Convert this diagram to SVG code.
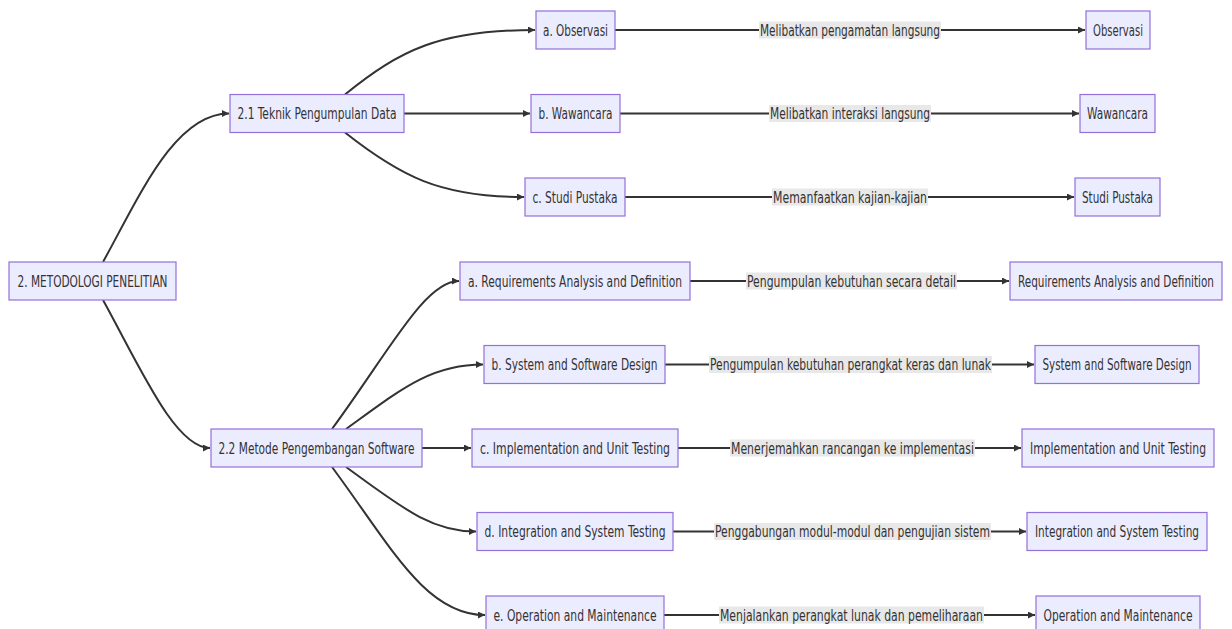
<svg xmlns="http://www.w3.org/2000/svg" width="1232" height="629" viewBox="0 0 1232 629">
<style>
.node rect{fill:#ECECFF;stroke:#9370DB;stroke-width:1.2}
text{font-family:"Liberation Sans Narrow","DejaVu Sans Condensed","Liberation Sans",sans-serif;font-size:15.5px;fill:#333;text-anchor:middle}
.edge{fill:none;stroke:#333;stroke-width:2;marker-end:url(#arr)}
.lbl rect{fill:#e8e8e8}
</style>
<defs>
<marker id="arr" viewBox="0 0 10 10" refX="10" refY="5" markerWidth="7" markerHeight="7" markerUnits="userSpaceOnUse" orient="auto"><path d="M0,0 L10,5 L0,10 z" fill="#333"/></marker>
</defs>
<rect width="1232" height="629" fill="#fff"/>
<g id="connectors">
<path class="edge" d="M103,262 C140,195 175,113.5 229,113.5"/>
<path class="edge" d="M103,300 C140,367 175,448 210,448"/>
<path class="edge" d="M345,94.5 C400,50 440,30 535,30"/>
<path class="edge" d="M404,113.5 L530,113.5"/>
<path class="edge" d="M345,132.5 C400,176 440,197 524,197"/>
<path class="edge" d="M332,429 C390,350 425,281 459,281"/>
<path class="edge" d="M346,429 C400,390 430,364.5 483,364.5"/>
<path class="edge" d="M422,448 L471,448"/>
<path class="edge" d="M346,467 C400,506 430,531.5 476,531.5"/>
<path class="edge" d="M332,467 C390,545 425,615 485,615"/>
<path class="edge" d="M615,30 L1085,30"/>
<path class="edge" d="M620,113.5 L1079,113.5"/>
<path class="edge" d="M625,197 L1074,197"/>
<path class="edge" d="M690,281 L1009,281"/>
<path class="edge" d="M665,364.5 L1034,364.5"/>
<path class="edge" d="M678,448 L1021,448"/>
<path class="edge" d="M673,531.5 L1026,531.5"/>
<path class="edge" d="M664,615 L1035,615"/>
<g class="lbl"><rect x="759" y="21.5" width="182" height="17"/><text x="850" y="35.5" textLength="180" lengthAdjust="spacingAndGlyphs">Melibatkan pengamatan langsung</text></g>
<g class="lbl"><rect x="769" y="105" width="162" height="17"/><text x="850" y="119" textLength="160" lengthAdjust="spacingAndGlyphs">Melibatkan interaksi langsung</text></g>
<g class="lbl"><rect x="772" y="188.5" width="156" height="17"/><text x="850" y="202.5" textLength="154" lengthAdjust="spacingAndGlyphs">Memanfaatkan kajian-kajian</text></g>
<g class="lbl"><rect x="746" y="272.5" width="211" height="17"/><text x="851.5" y="286.5" textLength="209" lengthAdjust="spacingAndGlyphs">Pengumpulan kebutuhan secara detail</text></g>
<g class="lbl"><rect x="709" y="356" width="283" height="17"/><text x="850.5" y="370" textLength="281" lengthAdjust="spacingAndGlyphs">Pengumpulan kebutuhan perangkat keras dan lunak</text></g>
<g class="lbl"><rect x="730" y="439.5" width="245" height="17"/><text x="852.5" y="453.5" textLength="243" lengthAdjust="spacingAndGlyphs">Menerjemahkan rancangan ke implementasi</text></g>
<g class="lbl"><rect x="714" y="523" width="277" height="17"/><text x="852.5" y="537" textLength="275" lengthAdjust="spacingAndGlyphs">Penggabungan modul-modul dan pengujian sistem</text></g>
<g class="lbl"><rect x="719" y="606.5" width="265" height="17"/><text x="851.5" y="620.5" textLength="263" lengthAdjust="spacingAndGlyphs">Menjalankan perangkat lunak dan pemeliharaan</text></g>
</g>
<g id="root" class="node"><rect x="9" y="262" width="167" height="38"/><text x="92.5" y="286.5" textLength="150" lengthAdjust="spacingAndGlyphs">2. METODOLOGI PENELITIAN</text></g>
<g id="n21" class="node"><rect x="230" y="94.5" width="174" height="38"/><text x="317" y="119" textLength="159" lengthAdjust="spacingAndGlyphs">2.1 Teknik Pengumpulan Data</text></g>
<g id="n22" class="node"><rect x="211" y="429" width="211" height="38"/><text x="316.5" y="453.5" textLength="196" lengthAdjust="spacingAndGlyphs">2.2 Metode Pengembangan Software</text></g>
<g id="aObs" class="node"><rect x="536" y="11" width="79" height="38"/><text x="575.5" y="35.5" textLength="65" lengthAdjust="spacingAndGlyphs">a. Observasi</text></g>
<g id="bWaw" class="node"><rect x="531" y="94.5" width="89" height="38"/><text x="575.5" y="119" textLength="74" lengthAdjust="spacingAndGlyphs">b. Wawancara</text></g>
<g id="cStudi" class="node"><rect x="525" y="178" width="100" height="38"/><text x="575" y="202.5" textLength="85" lengthAdjust="spacingAndGlyphs">c. Studi Pustaka</text></g>
<g id="obs" class="node"><rect x="1086" y="11" width="64" height="38"/><text x="1118" y="35.5" textLength="50" lengthAdjust="spacingAndGlyphs">Observasi</text></g>
<g id="waw" class="node"><rect x="1080" y="94.5" width="75" height="38"/><text x="1117.5" y="119" textLength="61" lengthAdjust="spacingAndGlyphs">Wawancara</text></g>
<g id="studi" class="node"><rect x="1075" y="178" width="85" height="38"/><text x="1117.5" y="202.5" textLength="71" lengthAdjust="spacingAndGlyphs">Studi Pustaka</text></g>
<g id="aReq" class="node"><rect x="460" y="262" width="230" height="38"/><text x="575" y="286.5" textLength="214" lengthAdjust="spacingAndGlyphs">a. Requirements Analysis and Definition</text></g>
<g id="bSys" class="node"><rect x="484" y="345.5" width="181" height="38"/><text x="574.5" y="370" textLength="166" lengthAdjust="spacingAndGlyphs">b. System and Software Design</text></g>
<g id="cImp" class="node"><rect x="472" y="429" width="206" height="38"/><text x="575" y="453.5" textLength="190" lengthAdjust="spacingAndGlyphs">c. Implementation and Unit Testing</text></g>
<g id="dInt" class="node"><rect x="477" y="512.5" width="196" height="38"/><text x="575" y="537" textLength="181" lengthAdjust="spacingAndGlyphs">d. Integration and System Testing</text></g>
<g id="eOp" class="node"><rect x="486" y="596" width="178" height="38"/><text x="575" y="620.5" textLength="163" lengthAdjust="spacingAndGlyphs">e. Operation and Maintenance</text></g>
<g id="req" class="node"><rect x="1010" y="262" width="212" height="38"/><text x="1116" y="286.5" textLength="196" lengthAdjust="spacingAndGlyphs">Requirements Analysis and Definition</text></g>
<g id="sys" class="node"><rect x="1035" y="345.5" width="164" height="38"/><text x="1117" y="370" textLength="149" lengthAdjust="spacingAndGlyphs">System and Software Design</text></g>
<g id="imp" class="node"><rect x="1022" y="429" width="192" height="38"/><text x="1118" y="453.5" textLength="176" lengthAdjust="spacingAndGlyphs">Implementation and Unit Testing</text></g>
<g id="int" class="node"><rect x="1027" y="512.5" width="180" height="38"/><text x="1117" y="537" textLength="164" lengthAdjust="spacingAndGlyphs">Integration and System Testing</text></g>
<g id="op" class="node"><rect x="1036" y="596" width="164" height="38"/><text x="1118" y="620.5" textLength="149" lengthAdjust="spacingAndGlyphs">Operation and Maintenance</text></g>
</svg>
